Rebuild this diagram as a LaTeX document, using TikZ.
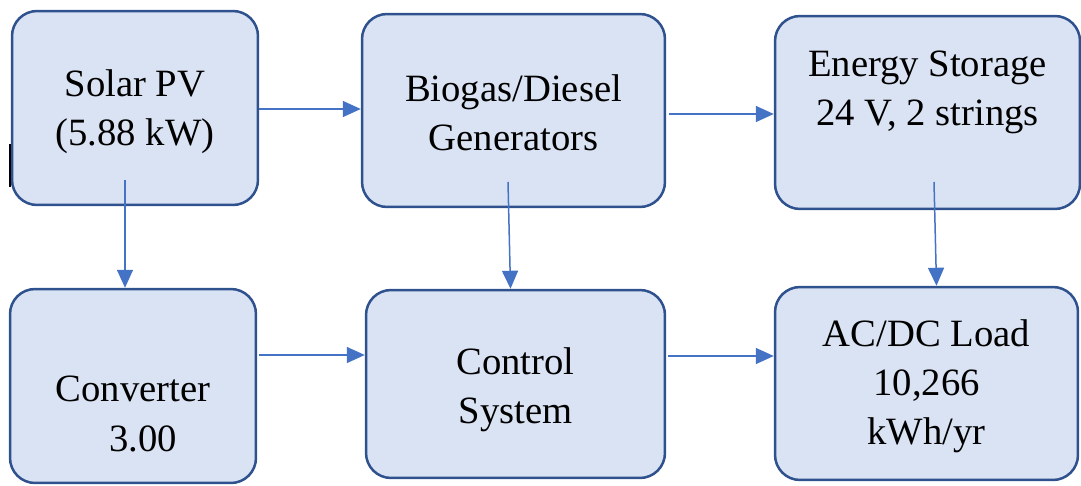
\documentclass[tikz,border=0pt]{standalone}
\usepackage{fontspec}
\setmainfont{Liberation Serif}
\usetikzlibrary{arrows.meta}
\definecolor{boxfill}{HTML}{DAE3F3}
\definecolor{boxline}{HTML}{2F528F}
\definecolor{arrowblue}{HTML}{4472C4}
\tikzset{
	blk/.style={draw=boxline, fill=boxfill, line width=0.05cm, rounded corners=0.5cm, inner sep=0pt},
	txt/.style={align=center, font=\fontsize{22}{28}\selectfont, inner sep=0pt},
	arr/.style={draw=arrowblue, line width=0.03cm, -{Triangle[length=0.36cm,width=0.32cm]}},
}
\begin{document}
\begin{tikzpicture}[x=0.02cm, y=-0.02cm]
		\useasboundingbox (0,0) rectangle (1081,486);
		% blocks
		\node[blk, minimum width=4.92cm, minimum height=3.88cm] (solar) at (135,108) {};
		\node[blk, minimum width=6.06cm, minimum height=3.86cm] (biogas) at (513.5,110.5) {};
		\node[blk, minimum width=6.10cm, minimum height=3.86cm] (storage) at (927.5,112.5) {};
		\node[blk, minimum width=4.92cm, minimum height=3.88cm] (converter) at (133,386) {};
		\node[blk, minimum width=5.98cm, minimum height=3.76cm] (control) at (515.5,384) {};
		\node[blk, minimum width=6.06cm, minimum height=3.86cm] (load) at (926.5,383.5) {};

		\node[txt] (solarT) at ([yshift=-0.08cm]solar) {Solar PV\\(5.88 kW)};
		\node[txt] (biogasT) at ([yshift=-0.05cm]biogas) {Biogas/Diesel\\Generators};
		\node[txt] (storageT) at ([yshift=0.4cm]storage) {Energy Storage\\24 V, 2 strings};
		\node[txt] (converterT) at ([yshift=-0.56cm]converter) {Converter\\\hspace{0.4cm}3.00};
		\node[txt] (controlT) at ([yshift=-0.12cm]control) {Control\\System};
		\node[txt] (loadT) at ([yshift=-0.05cm]load) {AC/DC Load\\10,266\\kWh/yr};

		% arrows
		\coordinate (solarS) at (125,180);
		\coordinate (biogasS) at (508,182);
		\coordinate (storageS) at (934,182);
		\coordinate (s2b) at ([yshift=-0.02cm]solar.east);
		\coordinate (b2s) at ([yshift=-0.07cm,xshift=0.06cm]biogas.east);
		\coordinate (c2c) at ([yshift=0.62cm,xshift=0.04cm]converter.east);
		\coordinate (c2l) at ([yshift=0.56cm,xshift=0.04cm]control.east);
		\draw[arr] (s2b) -- (s2b -| biogas.west);
		\draw[arr] (b2s) -- (b2s -| storage.west);
		\draw[arr] (solarS) -- (solarS |- converter.north);
		\draw[arr] (biogasS) -- ([xshift=-0.1cm]control.north);
		\draw[arr] (storageS) -- ([xshift=0.2cm]load.north);
		\draw[arr] (c2c) -- (c2c -| control.west);
		\draw[arr] (c2l) -- (c2l -| load.west);

		\draw[line width=0.04cm] (10,144) -- (10,187);
\end{tikzpicture}
\end{document}
